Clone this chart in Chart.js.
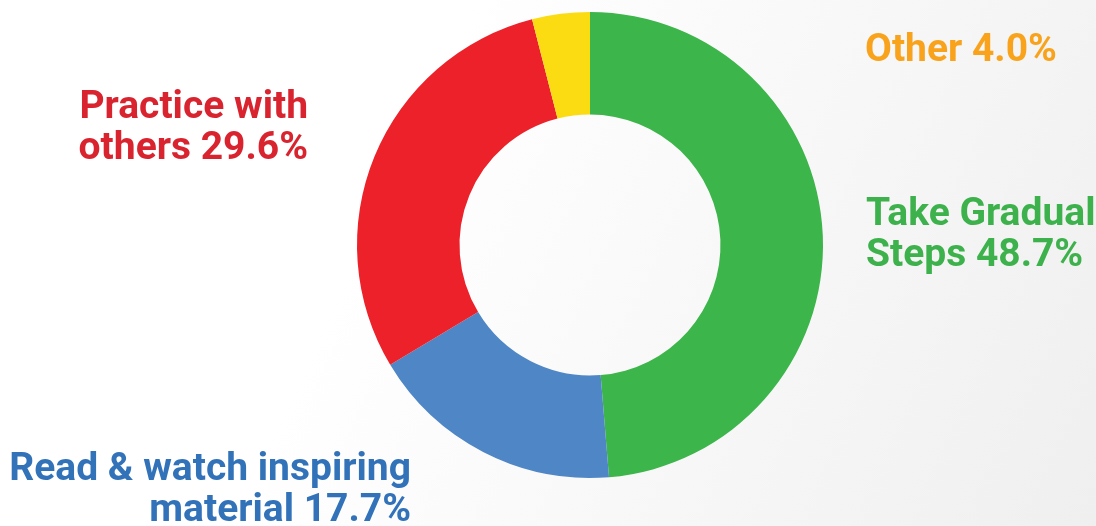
<!DOCTYPE html>
<html>
<head>
<meta charset="utf-8">
<script src="https://cdn.jsdelivr.net/npm/chart.js@4"></script>
<style>
  html, body { margin: 0; padding: 0; }
  body {
    width: 1096px; height: 526px; overflow: hidden;
    background: linear-gradient(115deg, #ffffff 0%, #ffffff 35%, #efefef 100%);
  }
  #wrap { position: relative; width: 1096px; height: 526px; }
</style>
</head>
<body>
<div id="wrap"><canvas id="habitChart"></canvas></div>
<script>
const categories = [["Take Gradual", "Steps"], ["Read & watch inspiring", "material"], ["Practice with", "others"], ["Other"]];
const shares = [48.7, 17.7, 29.6, 4.0];
const sliceColors = ["#3cb54a", "#4f86c6", "#ec2129", "#fbdc12"];
const labelColors = ["#3db14b", "#3272b9", "#d9242f", "#f8a31b"];

// where each outside label sits (first line centre y, alignment)
const labelPlaces = [
  { x: 866, y: 215, align: "left" },
  { x: 411, y: 470, align: "right" },
  { x: 308, y: 108, align: "right" },
  { x: 865, y: 51, align: "left" },
];

const outsideLabels = {
  id: "outsideLabels",
  afterDraw(chart) {
    const ctx = chart.ctx;
    ctx.save();
    ctx.font = "bold 39px Roboto";
    ctx.textBaseline = "middle";
    categories.forEach((lines, i) => {
      const p = labelPlaces[i];
      ctx.fillStyle = labelColors[i];
      ctx.textAlign = p.align;
      lines.forEach((line, j) => {
        let t = line;
        if (j === lines.length - 1) t += " " + shares[i].toFixed(1) + "%";
        ctx.fillText(t, p.x, p.y + j * 41);
      });
    });
    ctx.restore();
  },
};

const ctx = document.getElementById("habitChart").getContext("2d");
new Chart(ctx, {
  type: "doughnut",
  data: {
    labels: categories.map((c) => c.join(" ")),
    datasets: [
      {
        data: shares,
        backgroundColor: sliceColors,
        borderWidth: 0,
      },
    ],
  },
  options: {
    responsive: true,
    maintainAspectRatio: false,
    animation: false,
    cutout: "56%",
    layout: { padding: { top: 12, bottom: 48, left: 84, right: 0 } },
    plugins: {
      legend: { display: false },
      tooltip: { enabled: false },
    },
  },
  plugins: [outsideLabels],
});
</script>
</body>
</html>
